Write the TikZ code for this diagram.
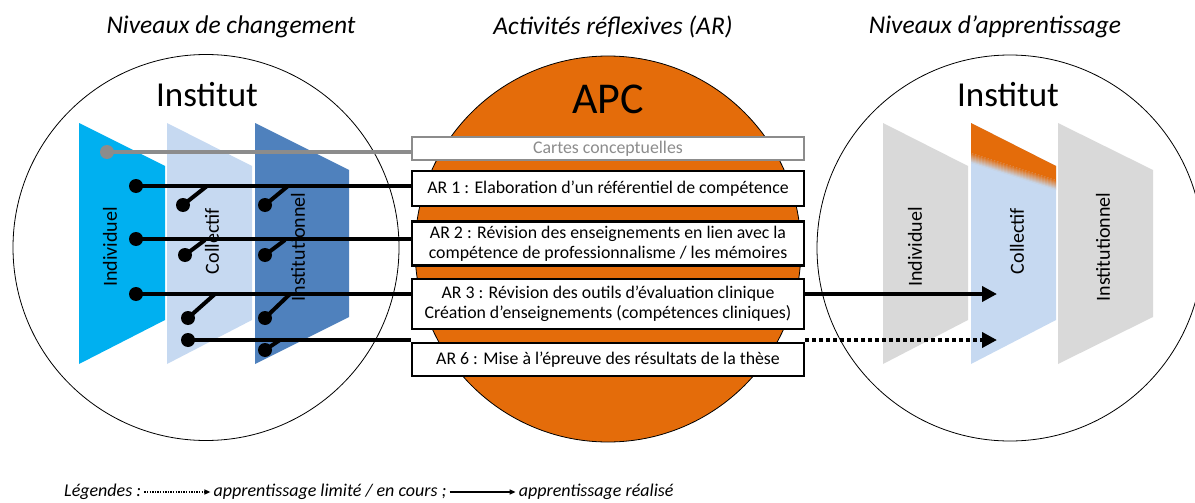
\documentclass[tikz,border=0pt]{standalone}
\usepackage{fontspec}
\setmainfont{Carlito}
\usetikzlibrary{arrows.meta,positioning,calc}

\definecolor{cyanplane}{HTML}{00B0F0}
\definecolor{paleplane}{HTML}{C6D9F1}
\definecolor{steelplane}{HTML}{4F81BD}
\definecolor{greyplane}{HTML}{D9D9D9}
\definecolor{apcorange}{HTML}{E46C0A}
\definecolor{linegrey}{HTML}{8C8C8C}

\begin{document}
\begin{tikzpicture}[
x=1pt, y=-1pt,
every node/.style={inner sep=0pt},
ring/.style={draw, line width=0.8pt},
arbox/.style={draw, line width=2.2pt, fill=white, minimum width=392pt, inner sep=2pt, align=center, font=\fontsize{17.8}{20}\selectfont},
plane/.style={rotate=90, font=\fontsize{20}{24}\selectfont},
dot/.style={circle, fill, minimum size=14pt, inner sep=0pt},
link/.style={line width=4.5pt},
arrow/.style={line width=4.5pt, -{Triangle[length=15pt, width=15pt]}},
heading/.style={font=\fontsize{25.5}{30}\itshape\selectfont},
title/.style={font=\fontsize{35}{40}\selectfont},
legend/.style={font=\fontsize{18}{21}\itshape\selectfont, text height=12.5pt, text depth=3.5pt},
legarrow/.style={line width=1.3pt, -{Triangle[length=6pt, width=5pt]}, shorten <=3pt, shorten >=3pt}
]
\useasboundingbox (0,0) rectangle (1195,503);

% -------- Headings --------
\node[heading] (hdChange) at (231,27) {Niveaux de changement};
\node[heading] (hdAR) at (613,27) {Activités réflexives (AR)};
\node[heading] (hdLearn) at (995,27) {Niveaux d’apprentissage};

% -------- Circles --------
\filldraw[ring, fill=apcorange] (608,249) circle[radius=193pt];
\draw[ring] (206,247.5) circle[radius=193pt];
\draw[ring] (1010,248) circle[radius=193pt];

\node[title] (titleL) at (207,95) {Institut};
\node[font=\fontsize{44}{50}\selectfont] (titleAPC) at (608,99) {APC};
\node[title] (titleR) at (1008,95) {Institut};

% -------- Levels of change (left) --------
\fill[cyanplane] (79,123) -- (165,166) -- (165,320) -- (79,364) -- cycle;
\fill[paleplane] (167,123) -- (252,166) -- (252,320) -- (167,364) -- cycle;
\fill[steelplane] (255,123) -- (349,170) -- (349,317) -- (255,364) -- cycle;

\node[plane] (indivL) at (110,247) {Individuel};
\node[plane] (collL) at (212,241) {Collectif};
\node[plane] (instL) at (298,247) {Institutionnel};

% -------- Levels of learning (right) --------
\fill[greyplane] (883,123) -- (968,166) -- (968,320) -- (883,364) -- cycle;
\begin{scope}
\clip (971,123) -- (1056,166) -- (1056,320) -- (971,364) -- cycle;
\fill[paleplane] (960,100) rectangle (1070,380);
\fill[apcorange] (960,100) -- (1070,100) -- (1070,184.5) -- (960,149.5) -- cycle;
\foreach \i in {0,...,9} {
  \pgfmathtruncatemacro\pct{95-10*\i}
  \fill[apcorange!\pct!paleplane] (960,149.5+\i) -- (1070,184.5+\i) -- (1070,185.7+\i) -- (960,150.7+\i) -- cycle;
}
\end{scope}
\fill[greyplane] (1058,123) -- (1153,170) -- (1153,317) -- (1058,364) -- cycle;

\node[plane] (indivR) at (915,247) {Individuel};
\node[plane] (collR) at (1017,241) {Collectif};
\node[plane] (instR) at (1103,247) {Institutionnel};

% -------- Reflexive activities --------
\node[arbox, draw=linegrey, text=linegrey, minimum height=23pt] (cartes) at (608,148.5) {Cartes conceptuelles};
\node[arbox, minimum height=35pt, below=9pt of cartes] (ar1) {AR 1 : Elaboration d’un référentiel de compétence};
\node[arbox, minimum height=44pt, below=13pt of ar1] (ar2) {AR 2 : Révision des enseignements en lien avec la\\compétence de professionnalisme / les mémoires};
\node[arbox, minimum height=50pt, below=11pt of ar2] (ar3) {AR 3 : Révision des outils d’évaluation clinique\\Création d’enseignements (compétences cliniques)};
\node[arbox, minimum height=33pt, below=12pt of ar3] (ar6) {AR 6 : Mise à l’épreuve des résultats de la thèse};

% -------- Links --------
\node[dot, linegrey] (dotC) at (107,152) {};
\node[dot] (dot1) at (136,186) {};
\node[dot] (dot2) at (136,239) {};
\node[dot] (dot3) at (136,294) {};
\node[dot] (dot6) at (188,340) {};

\draw[link, linegrey, line width=4pt] (dotC.center) -- (dotC -| cartes.west);
\draw[link] (dot1.center) -- (dot1 -| ar1.west);
\draw[link] (dot2.center) -- (dot2 -| ar2.west);
\draw[link] (dot3.center) -- (dot3 -| ar3.west);
\draw[link] (dot6.center) -- (dot6 -| ar6.west);

% open switches
\foreach \nm/\px/\py/\qx/\qy in {sw1a/183/205/207/186, sw1b/265/205/288/186,
    sw2a/185/255/205/240, sw2b/265/255/285/240,
    sw3a/188/318/215/294, sw3b/265/318/290/294,
    sw6b/265/350/280/340} {
  \node[dot] (\nm) at (\px,\py) {};
  \coordinate (\nm-end) at (\qx,\qy);
  \draw[link, line width=4pt] (\nm.center) -- (\nm-end);
}

% -------- Learning arrows --------
\coordinate (tip3) at (997,294);
\coordinate (tip6) at (997,340);
\draw[arrow] (ar3.east |- dot3) -- (tip3);
\draw[arrow, dash pattern=on 4pt off 3pt] (ar6.east |- dot6) -- (tip6);

% -------- Legend --------
\node[legend, anchor=west] (legA) at (64,492) {Légendes :};
\node[legend, right=72pt of legA] (legB) {apprentissage limité / en cours ;};
\node[legend, right=72pt of legB] (legC) {apprentissage réalisé};
\draw[legarrow, dash pattern=on 1.3pt off 1.3pt] (legA) -- (legB);
\draw[legarrow] (legB) -- (legC);

\end{tikzpicture}
\end{document}
